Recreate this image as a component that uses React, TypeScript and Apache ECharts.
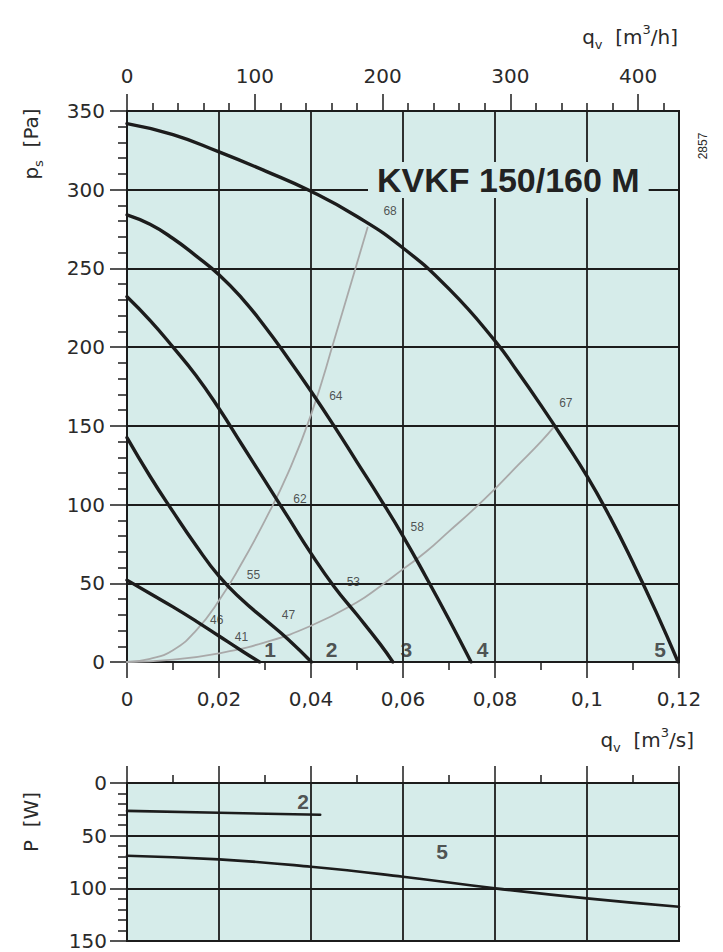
import React, { useEffect, useRef } from "react";
import * as echarts from "echarts";

// ---------- data ----------
// Fan curves: static pressure p_s [Pa] vs airflow q_v [m3/s]
const fanCurve1 = [[0, 52], [0.005, 43.5], [0.01, 35], [0.015, 26], [0.02, 16.5], [0.025, 7], [0.0288, 0]];
const fanCurve2 = [[0, 142.5], [0.005, 118], [0.01, 95.5], [0.015, 74], [0.02, 54.5], [0.025, 39.5], [0.03, 27], [0.035, 14.5], [0.0401, 0]];
const fanCurve3 = [[0, 232], [0.005, 217], [0.01, 200], [0.015, 182], [0.02, 161], [0.025, 138], [0.03, 115], [0.035, 92], [0.04, 69], [0.045, 48], [0.05, 30], [0.055, 11.5], [0.0578, 0]];
const fanCurve4 = [[0, 284], [0.005, 278], [0.01, 269], [0.015, 258], [0.02, 246], [0.025, 231], [0.03, 213], [0.035, 193], [0.04, 172], [0.045, 150], [0.05, 127], [0.055, 104], [0.06, 80], [0.065, 54], [0.07, 27], [0.0748, 0]];
const fanCurve5 = [[0, 342], [0.01, 335], [0.02, 324], [0.03, 312], [0.04, 299], [0.05, 283], [0.06, 263], [0.07, 237], [0.08, 204], [0.085, 184], [0.09, 163], [0.095, 141], [0.1, 118], [0.105, 92], [0.11, 63], [0.115, 32], [0.1198, 0]];

// System (duct) curves, grey
const systemCurveA = [[0, 0], [0.005, 2], [0.01, 7.5], [0.015, 20], [0.02, 39], [0.025, 63], [0.03, 90], [0.035, 120], [0.04, 157], [0.045, 204], [0.0523, 276]];
const systemCurveB = [[0, 0], [0.01, 1.5], [0.02, 5.5], [0.03, 12.5], [0.04, 23], [0.05, 38], [0.055, 48], [0.06, 59], [0.065, 70], [0.07, 83], [0.075, 96], [0.08, 110], [0.085, 125], [0.09, 140], [0.093, 150]];

// Power consumption P [W] vs q_v [m3/s]
const powerCurve2 = [[0, 26.5], [0.02, 28.3], [0.042, 30.2]];
const powerCurve5 = [[0, 69], [0.02, 72.5], [0.04, 79.5], [0.06, 89], [0.08, 100], [0.1, 109.5], [0.12, 117.5]];

// Curve numbers (main chart)
const curveNames = ["1", "2", "3", "4", "5"];
const curveNameQ = [0.0311, 0.0445, 0.0607, 0.0773, 0.1159];
const curveNameP = [8, 8, 8, 8, 8];

// Sound level labels along the system curves
const soundNames = ["68", "64", "62", "55", "46", "41", "47", "53", "58", "67"];
const soundQ = [0.0572, 0.0454, 0.0376, 0.0275, 0.0195, 0.0249, 0.0351, 0.0492, 0.0631, 0.0954];
const soundP = [286.5, 169, 103.5, 55.3, 26.7, 16.1, 29.9, 51, 85.6, 164.3];

// Power chart curve numbers
const powerNames = ["2", "5"];
const powerNameQ = [0.0383, 0.0685];
const powerNameP = [17.5, 65];

// Axes
const qMin = 0;
const qMax = 0.12;
const qInterval = 0.02;
const psMax = 350;
const psInterval = 50;
const pMax = 150;
const pInterval = 50;
const qhMax = 432; // 0.12 m3/s in m3/h
const qhMajorTicks = [0, 100, 200, 300, 400];
const qhMinorTicks = [20, 40, 60, 80, 120, 140, 160, 180, 220, 240, 260, 280, 320, 340, 360, 380, 420];

const FONT = '"Liberation Sans", Arial, Helvetica, sans-serif';
const WIDE = '"DejaVu Sans", Verdana, sans-serif';
const BG = "#d6ecea";
const INK = "#1c1c1c";
const TXT = "#2a2a2a";

export default function App() {
  const ref = useRef<HTMLDivElement>(null);

  useEffect(() => {
    if (!ref.current) return;
    const chart = echarts.init(ref.current, undefined, { renderer: "svg" });

    const line = (data: number[][], color: string, width: number, xi = 0, yi = 0) => ({
      type: "line",
      xAxisIndex: xi,
      yAxisIndex: yi,
      data,
      smooth: 0.5,
      showSymbol: false,
      symbol: "none",
      silent: true,
      lineStyle: { color, width, cap: "round" },
      z: color === INK ? 4 : 3,
    });

    const labels = (names: string[], xs: number[], ys: number[], size: number, bold: boolean, font: string, xi = 0, yi = 0) => ({
      type: "scatter",
      xAxisIndex: xi,
      yAxisIndex: yi,
      symbol: "circle",
      symbolSize: 1,
      silent: true,
      itemStyle: { color: "rgba(0,0,0,0)" },
      z: 6,
      data: names.map((n, i) => [xs[i], ys[i], n]),
      label: {
        show: true,
        position: "inside",
        formatter: (p: any) => p.data[2],
        fontFamily: font,
        fontSize: size,
        fontWeight: bold ? "bold" : "normal",
        color: TXT,
      },
    });

    const tickStyle = { color: INK, width: 1.5 };
    const axisLineStyle = { color: INK, width: 1.5 };
    const splitLineStyle = { color: INK, width: 1.8 };
    const labelStyle = { fontFamily: WIDE, fontSize: 20, color: TXT };

    const titleRich = {
      a: { fontFamily: WIDE, fontSize: 20, lineHeight: 28, fill: TXT },
      s: { fontFamily: WIDE, fontSize: 13, verticalAlign: "bottom", lineHeight: 13, fill: TXT },
      p: { fontFamily: WIDE, fontSize: 13, verticalAlign: "top", lineHeight: 13, fill: TXT },
    };

    const option: any = {
      animation: false,
      textStyle: { fontFamily: FONT },
      grid: [
        { left: 127, top: 111, width: 552, height: 551, show: true, backgroundColor: BG, borderColor: INK, borderWidth: 2 },
        { left: 127, top: 783, width: 552, height: 158, show: true, backgroundColor: BG, borderColor: INK, borderWidth: 2 },
      ],
      xAxis: [
        {
          type: "value", gridIndex: 0, position: "bottom", min: qMin, max: qMax, interval: qInterval,
          axisLine: { show: true, lineStyle: axisLineStyle },
          axisTick: { show: true, length: 16, lineStyle: tickStyle },
          minorTick: { show: true, splitNumber: 2, length: 8, lineStyle: tickStyle },
          splitLine: { show: true, lineStyle: splitLineStyle },
          axisLabel: {
            ...labelStyle, margin: 27,
            formatter: (v: number) => String(Math.round(v * 1000) / 1000).replace(".", ","),
          },
        },
        {
          type: "value", gridIndex: 0, position: "top", min: 0, max: qhMax,
          axisLine: { show: true, lineStyle: axisLineStyle },
          axisTick: { show: true, customValues: qhMajorTicks, length: 17, lineStyle: tickStyle },
          axisLabel: { customValues: qhMajorTicks, ...labelStyle, margin: 25 },
          splitLine: { show: false },
        },
        {
          type: "value", gridIndex: 0, position: "top", min: 0, max: qhMax,
          axisLine: { show: false },
          axisTick: { show: true, customValues: qhMinorTicks, length: 8, lineStyle: tickStyle },
          axisLabel: { show: false },
          splitLine: { show: false },
        },
        {
          type: "value", gridIndex: 1, position: "top", min: qMin, max: qMax, interval: qInterval,
          axisLine: { show: true, lineStyle: axisLineStyle },
          axisTick: { show: true, length: 17, lineStyle: tickStyle },
          minorTick: { show: true, splitNumber: 2, length: 8, lineStyle: tickStyle },
          splitLine: { show: true, lineStyle: splitLineStyle },
          axisLabel: { show: false },
        },
      ],
      yAxis: [
        {
          type: "value", gridIndex: 0, min: 0, max: psMax, interval: psInterval,
          axisLine: { show: true, lineStyle: axisLineStyle },
          axisTick: { show: true, length: 17, lineStyle: tickStyle },
          minorTick: { show: true, splitNumber: 5, length: 9, lineStyle: tickStyle },
          splitLine: { show: true, lineStyle: splitLineStyle },
          axisLabel: { ...labelStyle, margin: 22 },
        },
        {
          type: "value", gridIndex: 1, min: 0, max: pMax, interval: pInterval, inverse: true,
          axisLine: { show: true, lineStyle: axisLineStyle },
          axisTick: { show: true, length: 17, lineStyle: tickStyle },
          minorTick: { show: true, splitNumber: 5, length: 9, lineStyle: tickStyle },
          splitLine: { show: true, lineStyle: splitLineStyle },
          axisLabel: { ...labelStyle, margin: 20 },
        },
      ],
      series: [
        line(systemCurveA, "#a9a9a9", 1.8),
        line(systemCurveB, "#a9a9a9", 1.8),
        line(fanCurve1, INK, 3.4),
        line(fanCurve2, INK, 3.4),
        line(fanCurve3, INK, 3.4),
        line(fanCurve4, INK, 3.4),
        line(fanCurve5, INK, 3.4),
        line(powerCurve2, INK, 2.6, 3, 1),
        line(powerCurve5, INK, 2.6, 3, 1),
        labels(curveNames, curveNameQ, curveNameP, 21, true, FONT),
        labels(soundNames, soundQ, soundP, 12, false, FONT),
        labels(powerNames, powerNameQ, powerNameP, 21, true, FONT, 3, 1),
      ],
      graphic: [
        {
          type: "text", x: 368, y: 180, z: 100,
          style: {
            text: "KVKF 150/160 M", fontFamily: FONT, fontSize: 34, fontWeight: "bold", fill: "#222",
            textVerticalAlign: "middle", backgroundColor: BG, padding: [2, 9, 0, 9],
          },
        },
        {
          type: "text", x: 678, y: 37, z: 100,
          style: { text: "{a|q}{s|v}{a|  [m}{p|3}{a|/h]}", align: "right", verticalAlign: "middle", fill: TXT, rich: titleRich },
        },
        {
          type: "text", x: 694, y: 740, z: 100,
          style: { text: "{a|q}{s|v}{a|  [m}{p|3}{a|/s]}", align: "right", verticalAlign: "middle", fill: TXT, rich: titleRich },
        },
        {
          type: "text", x: 31, y: 144, rotation: Math.PI / 2, z: 100,
          style: { text: "{a|p}{s|s}{a|  [Pa]}", align: "center", verticalAlign: "middle", fill: TXT, rich: titleRich },
        },
        {
          type: "text", x: 31, y: 822, rotation: Math.PI / 2, z: 100,
          style: { text: "P  [W]", align: "center", verticalAlign: "middle", fill: TXT, fontFamily: WIDE, fontSize: 20 },
        },
        {
          type: "text", x: 703, y: 146, rotation: Math.PI / 2, z: 100,
          style: { text: "2857", align: "center", verticalAlign: "middle", fill: TXT, fontFamily: FONT, fontSize: 12 },
        },
      ],
    };

    chart.setOption(option);
    return () => chart.dispose();
  }, []);

  return (
    <div
      ref={ref}
      style={{ position: "fixed", left: 0, top: 0, width: 723, height: 952, background: "#ffffff" }}
    />
  );
}
